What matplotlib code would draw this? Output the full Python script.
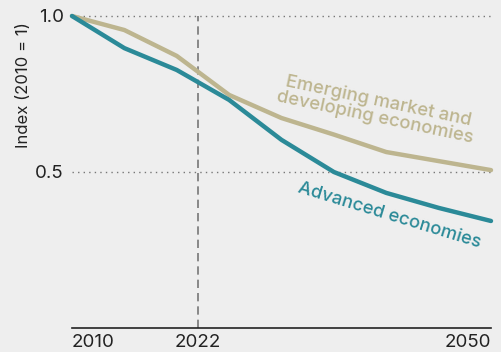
import matplotlib
matplotlib.use("Agg")
import matplotlib.pyplot as plt

plt.rcParams['font.family'] = ['Inter', 'DejaVu Sans']

# Index values, 2010 = 1
years = [2010, 2015, 2020, 2025, 2030, 2035, 2040, 2045, 2050]
advanced = [1.0, 0.897, 0.827, 0.731, 0.603, 0.500, 0.433, 0.385, 0.343]
emerging = [1.0, 0.955, 0.872, 0.747, 0.673, 0.620, 0.564, 0.535, 0.506]

x_ticks = [2010, 2022, 2050]
y_ticks = [0.5, 1.0]
y_tick_labels = ["0.5", "1.0"]

bg = "#eeeeee"
teal = "#2b8a98"
khaki = "#bdb58f"

fig = plt.figure(figsize=(5.02, 3.52), dpi=100, facecolor=bg)
ax = fig.add_axes([72 / 502, 1 - 328 / 352, (491 - 72) / 502, 312 / 352])
ax.set_facecolor(bg)

ax.set_xlim(2010, 2050)
ax.set_ylim(0, 1.0)

# dotted reference lines
for v in y_ticks:
    ax.axhline(v, color="#777777", lw=1.0, ls=(0, (1, 3)), zorder=1, clip_on=False)

# dashed marker for the current year
ax.axvline(2022, color="#777777", lw=1.2, ls=(0, (5, 3)), zorder=1, clip_on=False)

ax.plot(years, emerging, color=khaki, lw=3.2, solid_capstyle="round", zorder=3, clip_on=False)
ax.plot(years, advanced, color=teal, lw=3.2, solid_capstyle="round", zorder=4, clip_on=False)

ax.text(2039.1, 0.70, "Emerging market and\ndeveloping economies", color=khaki,
        fontsize=13.3, rotation=-12, ha="center", va="center", fontweight="medium",
        linespacing=0.92)
ax.text(2040.3, 0.36, "Advanced economies", color=teal, fontsize=13.2,
        rotation=-17, ha="center", va="center", fontweight="medium")

for side in ["top", "right", "left"]:
    ax.spines[side].set_visible(False)
ax.spines["bottom"].set_color("#222222")
ax.spines["bottom"].set_linewidth(1.2)

ax.set_xticks(x_ticks)
ax.set_xticklabels([str(t) for t in x_ticks], fontsize=13.5, color="#222222")
labels = ax.get_xticklabels()
labels[0].set_ha("left")
labels[-1].set_ha("right")
ax.set_yticks(y_ticks)
ax.set_yticklabels(y_tick_labels, fontsize=13.5, color="#222222")
ax.tick_params(length=0, pad=6)
ax.tick_params(axis="x", pad=4)

ax.set_ylabel("Index (2010 = 1)", fontsize=12, color="#222222", labelpad=2)
ax.yaxis.set_label_coords(-0.098, 0.78)

fig.savefig("out.png", dpi=100, facecolor=bg)
